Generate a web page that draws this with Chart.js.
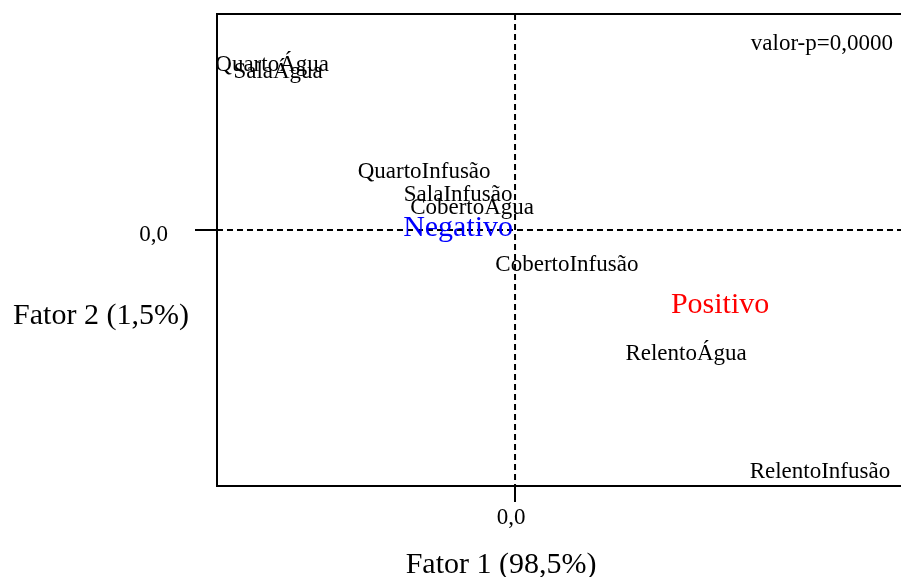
<!DOCTYPE html>
<html>
<head>
<meta charset="utf-8">
<script src="https://cdn.jsdelivr.net/npm/chart.js@4.4.0/dist/chart.umd.min.js"></script>
<style>
  html, body { margin: 0; padding: 0; background: #fff; }
  #wrap { width: 901px; height: 577px; position: relative; }
</style>
</head>
<body>
<div id="wrap"><canvas id="caChart"></canvas></div>
<script>
// Category coordinates (Fator 1, Fator 2)
const categoryNames = ['QuartoÁgua', 'SalaÁgua', 'QuartoInfusão', 'SalaInfusão', 'CobertoÁgua',
                       'CobertoInfusão', 'RelentoÁgua', 'RelentoInfusão'];
const categoryF1 = [-0.815, -0.795, -0.305, -0.191, -0.144, 0.174, 0.574, 1.023];
const categoryF2 = [0.764, 0.731, 0.269, 0.162, 0.102, -0.162, -0.574, -1.120];

// Response groups
const groupNames = ['Negativo', 'Positivo'];
const groupF1 = [-0.191, 0.688];
const groupF2 = [0.009, -0.347];
const groupColors = ['#0000ff', '#ff0000'];

const tickLabel = '0,0';
const xTitle = 'Fator 1 (98,5%)';
const yTitle = 'Fator 2 (1,5%)';
const pValueText = 'valor-p=0,0000';

const serif = "'Liberation Serif', 'Times New Roman', serif";

// Dashed zero lines and top frame
const framePlugin = {
    id: 'frame',
    beforeDatasetsDraw(chart) {
        const { ctx, chartArea, scales } = chart;
        const x0 = scales.x.getPixelForValue(0);
        const y0 = scales.y.getPixelForValue(0);
        ctx.save();
        ctx.strokeStyle = '#000';
        ctx.lineWidth = 2;
        ctx.setLineDash([6, 4]);
        ctx.beginPath();
        ctx.moveTo(chartArea.left, y0);
        ctx.lineTo(chartArea.right, y0);
        ctx.moveTo(x0, chartArea.top);
        ctx.lineTo(x0, chartArea.bottom);
        ctx.stroke();
        ctx.setLineDash([]);
        ctx.beginPath();
        ctx.moveTo(chartArea.left - 1, chartArea.top);
        ctx.lineTo(chartArea.right, chartArea.top);
        ctx.stroke();
        ctx.restore();
    }
};

// Text labels at each point, plus p-value and axis titles
const labelPlugin = {
    id: 'labels',
    afterDatasetsDraw(chart) {
        const { ctx, chartArea } = chart;
        ctx.save();
        ctx.textAlign = 'center';
        ctx.textBaseline = 'middle';
        chart.data.datasets.forEach((ds, di) => {
            const meta = chart.getDatasetMeta(di);
            ctx.font = ds.labelFont;
            meta.data.forEach((pt, i) => {
                ctx.fillStyle = Array.isArray(ds.labelColor) ? ds.labelColor[i] : ds.labelColor;
                ctx.fillText(ds.labels[i], pt.x, pt.y);
            });
        });
        ctx.fillStyle = '#000';
        ctx.font = '23px ' + serif;
        ctx.textAlign = 'right';
        ctx.fillText(pValueText, chartArea.right - 8, chartArea.top + 30);
        ctx.font = '30px ' + serif;
        ctx.textAlign = 'center';
        ctx.fillText(yTitle, 101, chart.scales.y.getPixelForValue(0) + 86);
        ctx.fillText(xTitle, chart.scales.x.getPixelForValue(0) - 14, chartArea.bottom + 79);
        ctx.restore();
    }
};

const ctx = document.getElementById('caChart');
new Chart(ctx, {
    type: 'scatter',
    data: {
        datasets: [{
            data: categoryF1.map((v, i) => ({ x: v, y: categoryF2[i] })),
            labels: categoryNames,
            labelColor: '#000',
            labelFont: '23px ' + serif,
            pointRadius: 0
        }, {
            data: groupF1.map((v, i) => ({ x: v, y: groupF2[i] })),
            labels: groupNames,
            labelColor: groupColors,
            labelFont: '30px ' + serif,
            pointRadius: 0
        }]
    },
    options: {
        responsive: true,
        maintainAspectRatio: false,
        animation: false,
        layout: { padding: { top: 14, right: 0, bottom: 0, left: 0 } },
        plugins: {
            legend: { display: false },
            tooltip: { enabled: false }
        },
        scales: {
            x: {
                type: 'linear',
                min: -1,
                max: 1.295,
                afterBuildTicks: axis => { axis.ticks = [{ value: 0 }]; },
                afterFit: axis => {
                    axis.height = 91;
                    axis.paddingLeft = 0;
                    axis.paddingRight = 0;
                },
                ticks: {
                    callback: () => tickLabel,
                    color: '#000',
                    padding: 2,
                    labelOffset: -4,
                    maxRotation: 0,
                    font: { family: serif, size: 23 }
                },
                grid: {
                    drawOnChartArea: false,
                    drawTicks: true,
                    tickLength: 16,
                    color: '#000',
                    lineWidth: 2
                },
                border: { display: true, color: '#000', width: 2 }
            },
            y: {
                type: 'linear',
                min: -1.185,
                max: 1,
                afterBuildTicks: axis => { axis.ticks = [{ value: 0 }]; },
                afterFit: axis => {
                    axis.width = 217;
                    axis.paddingTop = 0;
                    axis.paddingBottom = 0;
                },
                ticks: {
                    callback: () => tickLabel,
                    color: '#000',
                    padding: 27,
                    labelOffset: 5,
                    font: { family: serif, size: 23 }
                },
                grid: {
                    drawOnChartArea: false,
                    drawTicks: true,
                    tickLength: 22,
                    color: '#000',
                    lineWidth: 2
                },
                border: { display: true, color: '#000', width: 2 }
            }
        }
    },
    plugins: [framePlugin, labelPlugin]
});
</script>
</body>
</html>
